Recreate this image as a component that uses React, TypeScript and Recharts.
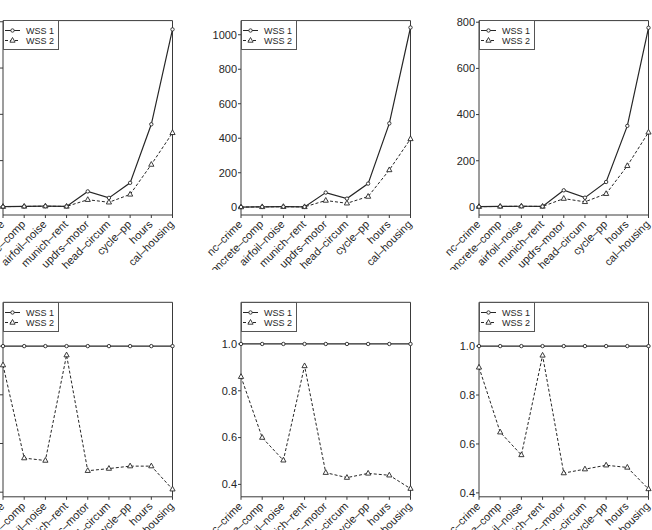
import React from "react";
import {
  LineChart,
  Line,
  XAxis,
  YAxis,
  ReferenceArea,
} from "recharts";

const categories = [
  "nc–crime",
  "concrete–comp",
  "airfoil–noise",
  "munich–rent",
  "updrs–motor",
  "head–circum",
  "cycle–pp",
  "hours",
  "cal–housing",
];

// top row: raw WSS values
const topLeftWss1 = [1, 2, 3, 2, 67, 39, 104, 357, 767];
const topLeftWss2 = [1, 2, 3, 2, 31, 20, 54, 183, 320];
const topMidWss1 = [1, 2, 3, 2, 85, 50, 137, 486, 1042];
const topMidWss2 = [1, 2, 3, 2, 39, 23, 62, 216, 396];
const topRightWss1 = [1, 2, 3, 2, 72, 40, 108, 351, 776];
const topRightWss2 = [1, 2, 3, 2, 36, 22, 57, 178, 323];

// bottom row: WSS relative to WSS 1
const botLeftWss1 = [1, 1, 1, 1, 1, 1, 1, 1, 1];
const botLeftWss2 = [0.922, 0.54, 0.53, 0.963, 0.488, 0.497, 0.507, 0.507, 0.412];
const botMidWss1 = [1, 1, 1, 1, 1, 1, 1, 1, 1];
const botMidWss2 = [0.86, 0.6, 0.503, 0.906, 0.45, 0.429, 0.447, 0.439, 0.382];
const botRightWss1 = [1, 1, 1, 1, 1, 1, 1, 1, 1];
const botRightWss2 = [0.913, 0.648, 0.555, 0.962, 0.481, 0.497, 0.513, 0.504, 0.416];

const ticks800 = [0, 200, 400, 600, 800];
const ticks1000 = [0, 200, 400, 600, 800, 1000];
const ticksRatio = [0.4, 0.6, 0.8, 1.0];

const FONT = '"Liberation Sans", Arial, Helvetica, sans-serif';
const INK = "#262626";
const FRAME = "#3a3a3a";
const TICK_FS = 11;
const LEGEND_FS = 9;

const Y_W = 55;
const PLOT_W = 169.5;
const RIGHT_M = 6;
const CHART_W = Y_W + PLOT_W + RIGHT_M;

type Panel = {
  left: number; // plot-area left edge on the page
  top: number; // chart top on the page
  height: number; // chart height (labels are clipped at the bottom)
  plotTop: number;
  plotBottom: number;
  wss1: number[];
  wss2: number[];
  domain: [number, number];
  ticks: number[];
  fmt: (v: number) => string;
};

const intFmt = (v: number) => String(v);
const ratioFmt = (v: number) => v.toFixed(1);

const topRow = { top: 0, height: 270, plotTop: 20.6, plotBottom: 215 };
const botRow = { top: 282, height: 265, plotTop: 302.3, plotBottom: 496.8 };

const panels: Panel[] = [
  { ...topRow, left: 3.3, wss1: topLeftWss1, wss2: topLeftWss2, domain: [-35, 805], ticks: ticks800, fmt: intFmt },
  { ...topRow, left: 241.3, wss1: topMidWss1, wss2: topMidWss2, domain: [-45, 1082], ticks: ticks1000, fmt: intFmt },
  { ...topRow, left: 479.3, wss1: topRightWss1, wss2: topRightWss2, domain: [-35, 807], ticks: ticks800, fmt: intFmt },
  { ...botRow, left: 3.3, wss1: botLeftWss1, wss2: botLeftWss2, domain: [0.381, 1.18], ticks: ticksRatio, fmt: ratioFmt },
  { ...botRow, left: 241.3, wss1: botMidWss1, wss2: botMidWss2, domain: [0.347, 1.178], ticks: ticksRatio, fmt: ratioFmt },
  { ...botRow, left: 479.3, wss1: botRightWss1, wss2: botRightWss2, domain: [0.384, 1.179], ticks: ticksRatio, fmt: ratioFmt },
];

const circleDot = (p: any) => (
  <circle
    key={`c-${p.index}`}
    cx={p.cx}
    cy={p.cy}
    r={1.7}
    fill="#fff"
    stroke={INK}
    strokeWidth={0.9}
    strokeDasharray="none"
  />
);

const triPath = (cx: number, cy: number) =>
  `M${cx},${cy - 3}L${cx - 2.6},${cy + 1.7}L${cx + 2.6},${cy + 1.7}Z`;

const triangleDot = (p: any) => (
  <path
    key={`t-${p.index}`}
    d={triPath(p.cx, p.cy)}
    fill="#fff"
    stroke={INK}
    strokeWidth={0.9}
    strokeDasharray="none"
  />
);

const CategoryTick = (props: any) => {
  const { x, y, payload } = props;
  return (
    <text
      transform={`translate(${x + 2},${y + 7}) rotate(-45)`}
      textAnchor="end"
      fontSize={TICK_FS}
      fontFamily={FONT}
      fill={INK}
    >
      {categories[payload.value]}
    </text>
  );
};

const LegendBox = () => (
  <svg width={56} height={30} style={{ position: "absolute", left: -0.5, top: -0.5 }}>
    <rect x={0.5} y={0.5} width={55} height={29} fill="#fff" stroke="#555" strokeWidth={1} />
    <line x1={2} y1={10.5} x2={17} y2={10.5} stroke={INK} strokeWidth={1} />
    <circle cx={9.5} cy={10.5} r={1.7} fill="#fff" stroke={INK} strokeWidth={0.9} />
    <text x={23} y={13.8} fontSize={LEGEND_FS} fontFamily={FONT} fill={INK}>
      WSS 1
    </text>
    <line x1={2} y1={20.5} x2={17} y2={20.5} stroke={INK} strokeWidth={1} strokeDasharray="3 2" />
    <path d={triPath(9.5, 20.5)} fill="#fff" stroke={INK} strokeWidth={0.9} />
    <text x={23} y={23.8} fontSize={LEGEND_FS} fontFamily={FONT} fill={INK}>
      WSS 2
    </text>
  </svg>
);

const PanelChart = ({ panel }: { panel: Panel }) => {
  const rows = categories.map((_, i) => ({
    i,
    wss1: panel.wss1[i],
    wss2: panel.wss2[i],
  }));
  const marginTop = panel.plotTop - panel.top;
  const xAxisH = panel.height - (panel.plotBottom - panel.top);
  return (
    <div
      style={{
        position: "absolute",
        left: panel.left - Y_W,
        top: panel.top,
        width: CHART_W,
        height: panel.height,
      }}
    >
      <LineChart
        width={CHART_W}
        height={panel.height}
        data={rows}
        margin={{ top: marginTop, right: RIGHT_M, bottom: 0, left: 0 }}
      >
        <XAxis
          dataKey="i"
          type="number"
          domain={[0, 8]}
          ticks={[0, 1, 2, 3, 4, 5, 6, 7, 8]}
          interval={0}
          height={xAxisH}
          axisLine={false}
          tickLine={{ stroke: FRAME, strokeWidth: 1 }}
          tickSize={3}
          tickMargin={0}
          tick={<CategoryTick />}
        />
        <YAxis
          type="number"
          domain={panel.domain}
          ticks={panel.ticks}
          allowDataOverflow
          width={Y_W}
          axisLine={false}
          tickLine={{ stroke: FRAME, strokeWidth: 1 }}
          tickSize={3}
          tickMargin={1}
          tickFormatter={panel.fmt}
          tick={{ fontSize: TICK_FS, fontFamily: FONT, fill: INK }}
        />
        <ReferenceArea
          x1={0}
          x2={8}
          y1={panel.domain[0]}
          y2={panel.domain[1]}
          fill="none"
          fillOpacity={0}
          stroke={FRAME}
          strokeWidth={1}
          ifOverflow="visible"
        />
        <Line
          dataKey="wss2"
          type="linear"
          stroke={INK}
          strokeWidth={1}
          strokeDasharray="3 2"
          dot={triangleDot}
          activeDot={false}
          isAnimationActive={false}
        />
        <Line
          dataKey="wss1"
          type="linear"
          stroke={INK}
          strokeWidth={1.2}
          dot={circleDot}
          activeDot={false}
          isAnimationActive={false}
        />
      </LineChart>
      <div style={{ position: "absolute", left: Y_W, top: marginTop }}>
        <LegendBox />
      </div>
    </div>
  );
};

export default function App() {
  return (
    <div
      style={{
        position: "fixed",
        left: 0,
        top: 0,
        width: 652,
        height: 530,
        overflow: "hidden",
        background: "#fff",
      }}
    >
      {panels.map((p, k) => (
        <PanelChart key={k} panel={p} />
      ))}
    </div>
  );
}
